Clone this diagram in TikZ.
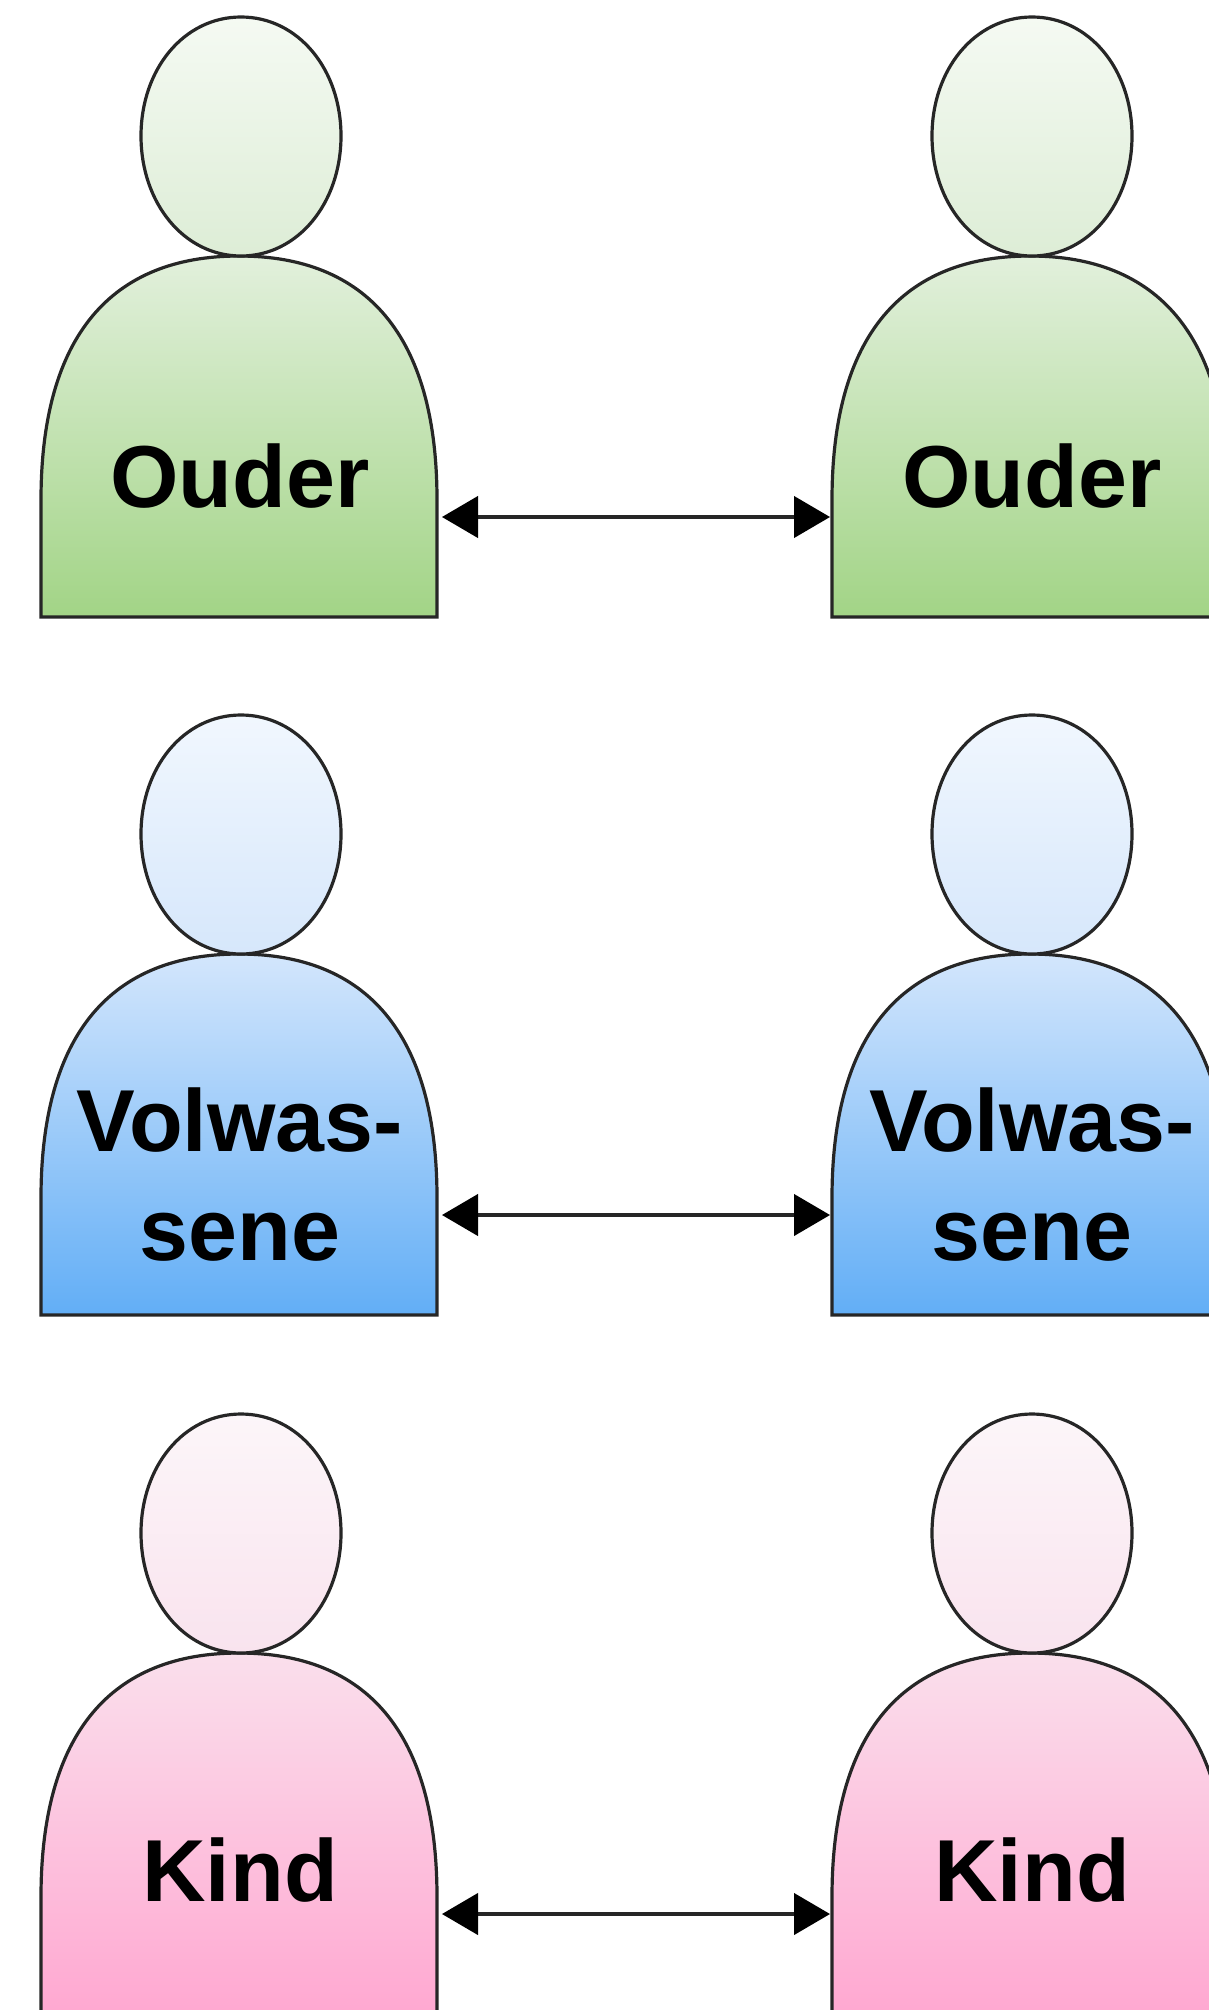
\documentclass[tikz,border=0pt]{standalone}
\usepackage{fontspec}
\setmainfont{Liberation Sans}
\usetikzlibrary{arrows.meta,shapes.geometric}
\definecolor{gHeadT}{HTML}{F5FAF3}\definecolor{gHeadB}{HTML}{DDEDD6}
\definecolor{gBodyT}{HTML}{E2F0DC}\definecolor{gBodyB}{HTML}{A2D486}
\definecolor{bHeadT}{HTML}{F1F7FE}\definecolor{bHeadB}{HTML}{D6E7FB}
\definecolor{bBodyT}{HTML}{D3E6FC}\definecolor{bBodyB}{HTML}{62AEF6}
\definecolor{pHeadT}{HTML}{FCF6F9}\definecolor{pHeadB}{HTML}{F9E3EE}
\definecolor{pBodyT}{HTML}{FADFEC}\definecolor{pBodyB}{HTML}{FFA8D1}
\tikzset{
  x=0.75pt,y=-0.75pt,
  outline/.style={draw=black!85,line width=2.4pt,line join=miter},
  labeltext/.style={font=\bfseries\fontsize{66pt}{82pt}\selectfont,align=center,text=black,inner sep=0pt},
  link/.style={draw=black!85,line width=2.4pt,{Triangle[length=27pt,width=31pt,color=black]}-{Triangle[length=27pt,width=31pt,color=black]}}
}
% #1 name, #2 x shift, #3 y shift, #4 head top, #5 head bottom, #6 body top, #7 body bottom
\newcommand{\personfig}[7]{%
  \path[outline,top color=#6,bottom color=#7]
    (41+#2,617+#3) -- (41+#2,500+#3)
    .. controls (41+#2,335+#3) and (112+#2,256+#3) .. (239+#2,256+#3)
    .. controls (366+#2,256+#3) and (437+#2,335+#3) .. (437+#2,500+#3)
    -- (437+#2,617+#3) -- cycle;
  \path[outline,top color=#4,bottom color=#5]
    (241+#2,17+#3)
    .. controls (298+#2,17+#3) and (341+#2,69+#3) .. (341+#2,136+#3)
    .. controls (341+#2,203+#3) and (298+#2,256+#3) .. (241+#2,256+#3)
    .. controls (184+#2,256+#3) and (141+#2,203+#3) .. (141+#2,136+#3)
    .. controls (141+#2,69+#3) and (184+#2,17+#3) .. (241+#2,17+#3) -- cycle;
  \coordinate (#1port) at (442+#2,517+#3);
  \coordinate (#1portL) at (39+#2,517+#3);
}
\begin{document}
\begin{tikzpicture}
\useasboundingbox (0,0) rectangle (1209,2010);
\clip (0,0) rectangle (1209,2010);
\personfig{ga}{0}{0}{gHeadT}{gHeadB}{gBodyT}{gBodyB}
\personfig{gb}{791}{0}{gHeadT}{gHeadB}{gBodyT}{gBodyB}
\personfig{ba}{0}{698}{bHeadT}{bHeadB}{bBodyT}{bBodyB}
\personfig{bb}{791}{698}{bHeadT}{bHeadB}{bBodyT}{bBodyB}
\personfig{pa}{0}{1397}{pHeadT}{pHeadB}{pBodyT}{pBodyB}
\personfig{pb}{791}{1397}{pHeadT}{pHeadB}{pBodyT}{pBodyB}
\node[labeltext,anchor=base] (t1) at (240,507) {Ouder};
\node[labeltext,anchor=base] (t2) at (1032,507) {Ouder};
\node[labeltext,anchor=base] (t3) at (240,1151) {Volwas-};
\node[labeltext,anchor=base] (t3b) at (240,1260) {sene};
\node[labeltext,anchor=base] (t4) at (1032,1151) {Volwas-};
\node[labeltext,anchor=base] (t4b) at (1032,1260) {sene};
\node[labeltext,anchor=base] (t5) at (240,1901) {Kind};
\node[labeltext,anchor=base] (t6) at (1032,1901) {Kind};
\draw[link] (gaport) -- (gbportL);
\draw[link] (baport) -- (bbportL);
\draw[link] (paport) -- (pbportL);
\end{tikzpicture}
\end{document}
